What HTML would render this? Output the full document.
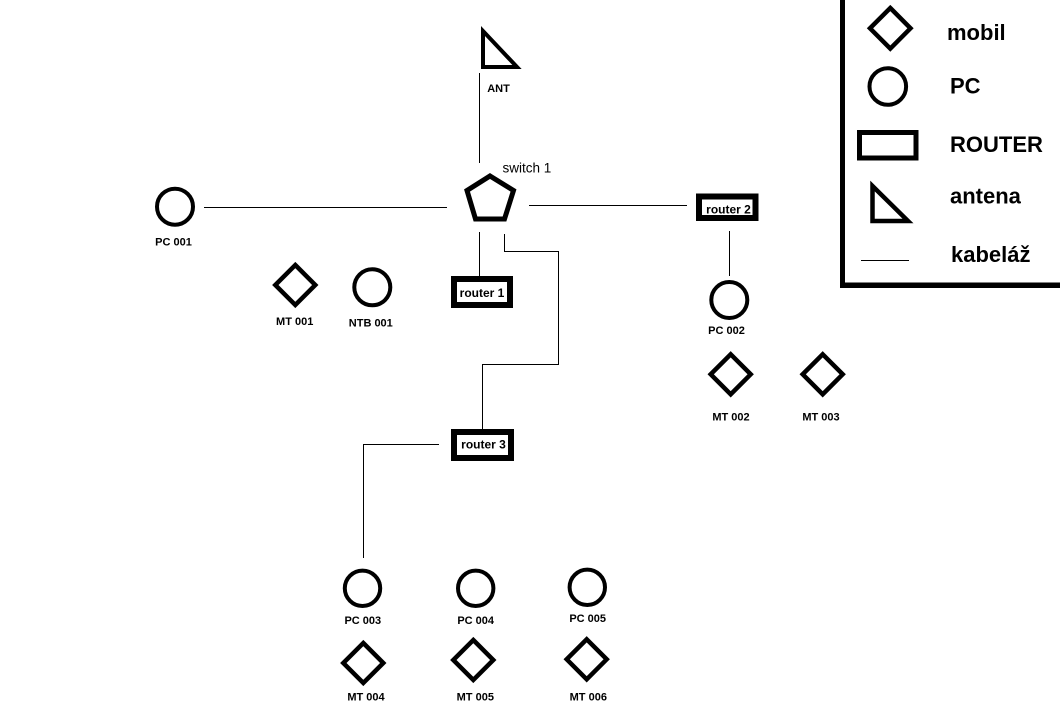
<!DOCTYPE html>
<html>
<head>
<meta charset="utf-8">
<style>
  html, body { margin: 0; padding: 0; background: #fff; }
  body { width: 1060px; height: 728px; overflow: hidden; }
  svg { display: block; }
  .lbl { font-family: "Liberation Sans", Arial, sans-serif; font-weight: bold; font-size: 11px; fill: #000; }
  .rt { font-family: "Liberation Sans", Arial, sans-serif; font-weight: bold; font-size: 12px; fill: #000; }
  .leg { font-family: "Liberation Sans", Arial, sans-serif; font-weight: bold; font-size: 22px; fill: #000; }
  .sw { font-family: "Liberation Sans", Arial, sans-serif; font-size: 13.5px; fill: #000; }
</style>
</head>
<body>
<svg width="1060" height="728" viewBox="0 0 1060 728" xmlns="http://www.w3.org/2000/svg">
  <rect x="0" y="0" width="1060" height="728" fill="#fff"/>

  <!-- connectors -->
  <g stroke="#000" stroke-width="1" fill="none">
    <line x1="479.5" y1="73" x2="479.5" y2="163"/>
    <line x1="204" y1="207.5" x2="447" y2="207.5"/>
    <line x1="529" y1="205.5" x2="687" y2="205.5"/>
    <line x1="479.5" y1="232" x2="479.5" y2="276"/>
    <polyline points="504.5,234 504.5,251.5 558.5,251.5 558.5,364.5 482.5,364.5 482.5,429"/>
    <line x1="729.5" y1="231" x2="729.5" y2="276"/>
    <polyline points="439,444.5 363.5,444.5 363.5,558"/>
  </g>

  <!-- shapes -->
  <g stroke="#000" fill="none" stroke-linejoin="miter">
    <!-- ANT triangle -->
    <polygon points="483,31 483,67 517,67" stroke-width="4"/>
    <!-- switch pentagon -->
    <polygon points="490,176 513.5,190.5 504.5,219 475.5,219 467,190.5" stroke-width="5"/>
    <!-- routers -->
    <rect x="454" y="279" width="56" height="26" stroke-width="6"/>
    <rect x="699" y="196.5" width="56.5" height="21.5" stroke-width="6"/>
    <rect x="454" y="432" width="57" height="26" stroke-width="6"/>
    <!-- PCs -->
    <circle cx="175" cy="206.7" r="18" stroke-width="4"/>
    <circle cx="372.3" cy="287.3" r="18" stroke-width="4"/>
    <circle cx="729.3" cy="300" r="18" stroke-width="4"/>
    <circle cx="362.5" cy="588.3" r="17.7" stroke-width="4"/>
    <circle cx="475.7" cy="588.3" r="17.7" stroke-width="4"/>
    <circle cx="587.3" cy="587.3" r="17.7" stroke-width="4"/>
    <!-- mobiles -->
    <polygon points="295.3,265 315.3,285 295.3,305 275.3,285" stroke-width="4.5"/>
    <polygon points="730.7,354.3 750.7,374.3 730.7,394.3 710.7,374.3" stroke-width="4.5"/>
    <polygon points="822.7,354.3 842.7,374.3 822.7,394.3 802.7,374.3" stroke-width="4.5"/>
    <polygon points="363.3,643 383.3,663 363.3,683 343.3,663" stroke-width="4.5"/>
    <polygon points="473.3,640 493.3,660 473.3,680 453.3,660" stroke-width="4.5"/>
    <polygon points="586.7,639.3 606.7,659.3 586.7,679.3 566.7,659.3" stroke-width="4.5"/>
  </g>

  <!-- labels -->
  <text class="lbl" x="498.5" y="92" text-anchor="middle">ANT</text>
  <text class="sw" x="502.5" y="172.5">switch 1</text>
  <text class="rt" x="482" y="297" text-anchor="middle">router 1</text>
  <text class="rt" x="728.5" y="213.5" text-anchor="middle">router 2</text>
  <text class="rt" x="483.5" y="448.5" text-anchor="middle">router 3</text>

  <text class="lbl" x="173.5" y="245.5" text-anchor="middle">PC 001</text>
  <text class="lbl" x="294.7" y="325" text-anchor="middle">MT 001</text>
  <text class="lbl" x="370.8" y="326.5" text-anchor="middle">NTB 001</text>
  <text class="lbl" x="726.5" y="334" text-anchor="middle">PC 002</text>
  <text class="lbl" x="731" y="420.5" text-anchor="middle">MT 002</text>
  <text class="lbl" x="821" y="420.5" text-anchor="middle">MT 003</text>
  <text class="lbl" x="362.8" y="624" text-anchor="middle">PC 003</text>
  <text class="lbl" x="475.7" y="624" text-anchor="middle">PC 004</text>
  <text class="lbl" x="587.7" y="622" text-anchor="middle">PC 005</text>
  <text class="lbl" x="366" y="700.5" text-anchor="middle">MT 004</text>
  <text class="lbl" x="475.3" y="700.5" text-anchor="middle">MT 005</text>
  <text class="lbl" x="588.3" y="700.5" text-anchor="middle">MT 006</text>

  <!-- legend -->
  <rect x="840" y="0" width="5" height="288" fill="#000"/>
  <rect x="840" y="282.5" width="220" height="5.5" fill="#000"/>
  <g stroke="#000" fill="none" stroke-linejoin="miter">
    <polygon points="890.3,8 910.5,28.3 890.3,48.6 870,28.3" stroke-width="4.5"/>
    <circle cx="887.8" cy="86.5" r="18.3" stroke-width="4"/>
    <rect x="859.5" y="132.5" width="56.5" height="25.5" stroke-width="5"/>
    <polygon points="872.5,186 872.5,221 908,221" stroke-width="4.5"/>
  </g>
  <line x1="861" y1="260.5" x2="909" y2="260.5" stroke="#000" stroke-width="1"/>
  <text class="leg" x="947" y="40">mobil</text>
  <text class="leg" x="950" y="93.5">PC</text>
  <text class="leg" x="950" y="152">ROUTER</text>
  <text class="leg" x="950" y="203.5">antena</text>
  <text class="leg" x="951" y="262">kabeláž</text>
</svg>
</body>
</html>
